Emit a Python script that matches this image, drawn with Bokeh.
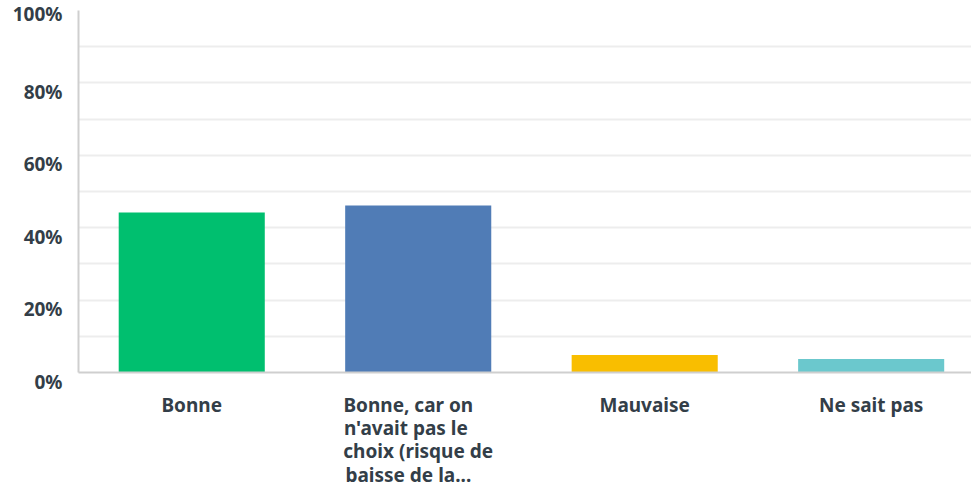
from bokeh.plotting import figure
from bokeh.models import FixedTicker, ColumnDataSource, Range1d
from bokeh.embed import file_html
from bokeh.resources import INLINE

NB = "\u00a0"
categories = ["Bonne",
              "Bonne, car on" + NB * 4 + "\nn'avait pas le" + NB * 5 +
              "\nchoix (risque de\nbaisse de la..." + NB * 4,
              "Mauvaise",
              "Ne sait pas"]
values = [44.2, 46.1, 4.8, 3.7]
colors = ["#00bf6f", "#507cb6", "#f9be00", "#6bc8cd"]
y_ticks = [0, 20, 40, 60, 80, 100]
y_tick_labels = ["0%", "20%", "40%", "60%", "80%", "100%"]
y_minor = [10, 30, 50, 70, 90]

xpos = [i + 0.5 for i in range(len(categories))]
src = ColumnDataSource(dict(x=xpos, top=values, color=colors))

FONT = "Noto Sans"
TXT = "#333e48"

p = figure(width=971, height=490, output_backend="svg", toolbar_location=None,
           x_range=Range1d(0, 3.943), y_range=Range1d(0, 100),
           min_border_left=78, min_border_right=0, min_border_top=10)
p.outline_line_color = None
p.vbar(x="x", top="top", bottom=0, width=0.645, color="color", source=src, line_color=None)

p.yaxis.ticker = FixedTicker(ticks=y_ticks, minor_ticks=y_minor)
# leading empty line shifts y labels a little below their gridline, as in the original
p.yaxis.major_label_overrides = {t: (l if t == 100 else "\n" + l)
                                 for t, l in zip(y_ticks, y_tick_labels)}
p.xaxis.ticker = FixedTicker(ticks=xpos)
p.xaxis.major_label_overrides = {x: c for x, c in zip(xpos, categories)}

for ax in (p.xaxis, p.yaxis):
    ax.axis_line_color = "#cfcfcf"
    ax.axis_line_width = 2
    ax.major_tick_line_color = None
    ax.minor_tick_line_color = None
    ax.major_tick_out = 0
    ax.major_tick_in = 0
    ax.minor_tick_out = 0
    ax.minor_tick_in = 0
    ax.major_label_text_font = FONT
    ax.major_label_text_font_style = "bold"
    ax.major_label_text_font_size = "19px"
    ax.major_label_text_color = TXT

p.yaxis.major_label_standoff = 16
p.yaxis.major_label_text_line_height = 0.7
p.xaxis.major_label_standoff = 19
p.xaxis.major_label_text_line_height = 0.9

p.xgrid.grid_line_color = None
p.ygrid.grid_line_color = "#ededed"
p.ygrid.grid_line_width = 2
p.ygrid.minor_grid_line_color = "#ededed"
p.ygrid.minor_grid_line_width = 2

open("out.html", "w").write(file_html(p, INLINE))
